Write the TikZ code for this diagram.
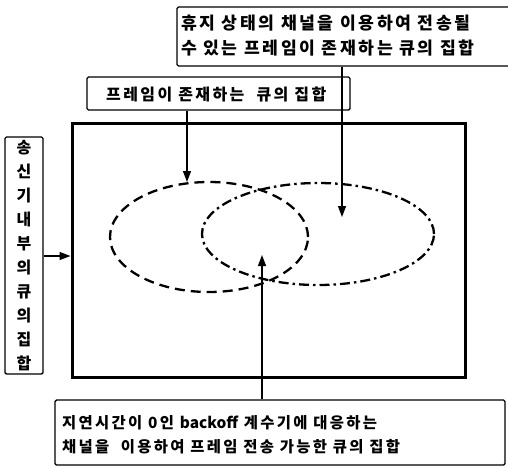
\documentclass[tikz,border=0pt]{standalone}
\usepackage{fontspec}
\setmainfont{Noto Sans CJK KR}[LetterSpace=15]
\usetikzlibrary{shapes.geometric,arrows.meta,calc}
\newcommand{\nols}[1]{{\addfontfeature{LetterSpace=0}#1}}
\begin{document}
\begin{tikzpicture}[x=1pt,y=-1pt,
  lbl/.style={draw,line width=1.4pt,rounded corners=1.5pt,inner sep=0pt},
  txt/.style={font=\fontsize{16}{24}\selectfont\bfseries,align=left,inner sep=0pt},
  arr/.style={line width=1.2pt,-{Triangle[length=11pt,width=8pt]}},
  setA/.style={draw,ellipse,line width=2.3pt,dash pattern=on 10pt off 6pt,inner sep=0pt},
  setB/.style={draw,ellipse,line width=2.3pt,dash pattern=on 10pt off 4pt on 2.5pt off 4pt,inner sep=0pt}]
\useasboundingbox (0,0) rectangle (508,467);
% boxes
\node[lbl,minimum width=335pt,minimum height=59pt] (top) at (344.5,36.5) {};
\node[txt,anchor=west,font=\fontsize{17.2}{25}\selectfont\bfseries] (topt) at (181,35.5)
  {휴지 상태의 채널을 이용하여 전송될\\수 있는 프레임이 존재하는 큐의 집합};
\node[lbl,minimum width=263pt,minimum height=33pt] (mid) at (218.5,93.5) {};
\node[txt,anchor=west] (midt) at (106,94)
  {프레임이 존재하는\ \ 큐의 집합};
\node[draw,line width=3pt,minimum width=393pt,minimum height=254pt,inner sep=0pt] (main) at (268.5,250) {};
\node[lbl,minimum width=38pt,minimum height=237pt] (left) at (24,255.5) {};
\node[txt,align=center] (leftt) at (24,255.5)
  {송\\신\\기\\내\\부\\의\\큐\\의\\집\\합};
\node[lbl,minimum width=450pt,minimum height=65pt] (bot) at (280,432.5) {};
\node[txt,anchor=west,font=\fontsize{15.4}{24}\selectfont\bfseries] (bott) at (62,435)
  {지연시간이 0인 \nols{backoff} 계수기에 대응하는\\채널을\ \ 이용하여 프레임 전송 가능한 큐의 집합};
% sets
\node[setA,minimum width=198pt,minimum height=110pt] (e1) at (209,237) {};
\node[setB,minimum width=232pt,minimum height=102pt] (e2) at (318,234) {};
% arrow targets
\coordinate (tA) at (187,182);
\coordinate (tB) at (342,217);
\coordinate (tC) at (262,255);
\draw[arr] (mid.south -| tA) -- (tA);
\draw[arr] (top.south -| tB) -- (tB);
\draw[arr] (bot.north -| tC) -- (tC);
\draw[arr] (left.east |- 0,256) -- (main.west |- 0,256);
\end{tikzpicture}
\end{document}
